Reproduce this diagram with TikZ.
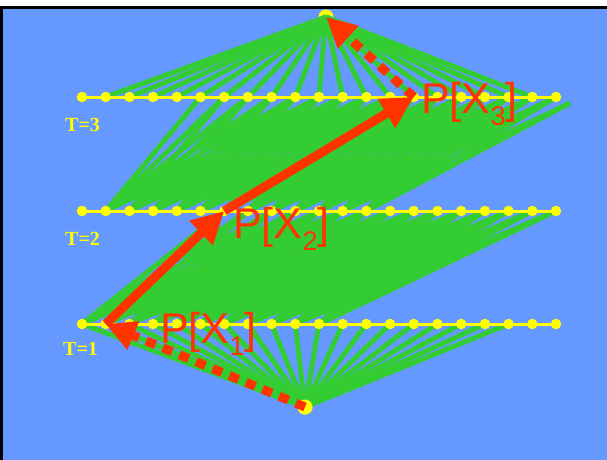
\documentclass[tikz,border=0pt]{standalone}
\usepackage{fontspec}
\setmainfont{Liberation Serif}
\newfontfamily\arialf{Liberation Sans}
\usetikzlibrary{arrows.meta}
\definecolor{bgblue}{HTML}{6699FF}
\definecolor{ggreen}{HTML}{33CC33}
\definecolor{yel}{HTML}{FFFF00}
\definecolor{rred}{HTML}{FF3300}
\newcommand{\subtxt}[1]{\raisebox{-12pt}{\fontsize{27}{27}\selectfont #1}}
\begin{document}
\begin{tikzpicture}[x=1pt,y=-1pt,
 gline/.style={ggreen, line width=5pt},
 rowline/.style={yel, line width=3pt},
 ydot/.style={circle, fill=yel, inner sep=0pt, minimum size=10.5pt},
 bigdot/.style={circle, fill=yel, inner sep=0pt, minimum size=15pt},
 tlabel/.style={text=yel, font=\fontsize{20}{20}\selectfont\bfseries, anchor=base west, inner sep=0pt},
 plabel/.style={text=rred, font=\arialf\fontsize{43}{43}\selectfont, anchor=base west, inner sep=0pt},
 solidarrow/.style={rred, line width=9pt, -{Triangle[length=32pt,width=32pt]}},
 dasharrow/.style={rred, line width=9pt, dash pattern=on 10pt off 8pt, -{Triangle[length=30pt,width=29pt]}},
]
\useasboundingbox (0,0) rectangle (607,459);
\fill[white] (0,0) rectangle (607,459);
\draw[line width=2.5pt, fill=bgblue] (1.25,7.25) rectangle (640,490);

% coordinates
\foreach \i in {0,...,20} {
  \pgfmathsetmacro\xx{82+23.7*\i}
  \coordinate (t1-\i) at (\xx,324);
  \coordinate (t2-\i) at (\xx,211);
  \coordinate (t3-\i) at (\xx,97);
}
\coordinate (ext) at (570,103);
\node[bigdot] (top) at (326,17) {};

% green edges T1 -> T2
\foreach \i in {0,...,10} {
  \foreach \j in {6,...,20} {
    \pgfmathtruncatemacro\d{\j-\i}
    \ifnum\d>4 \ifnum\d<12 \draw[gline] (t1-\i) -- (t2-\j); \fi\fi
  }
}
% green edges T2 -> T3
\foreach \i in {1,...,12} {
  \foreach \j in {5,...,20} {
    \pgfmathtruncatemacro\d{\j-\i}
    \ifnum\d>3 \ifnum\d<11 \draw[gline] (t2-\i) -- (t3-\j); \fi\fi
  }
}
\draw[gline] (t2-11) -- (ext);
\draw[gline] (t2-12) -- (ext);
% top fan
\foreach \j in {1,...,19} { \draw[gline] (top.center) -- (t3-\j); }
% bottom fan
\node[bigdot] (bot) at (305,407) {};
\foreach \j in {0,...,18} { \draw[gline] (bot.center) -- (t1-\j); }
\node[bigdot] at (bot.center) {};

% rows
\draw[rowline] (t1-0) -- (t1-20);
\draw[rowline] (t2-0) -- (t2-20);
\draw[rowline] (t3-0) -- (t3-20);
\foreach \i in {0,...,20} {
  \node[ydot] at (t1-\i) {};
  \node[ydot] at (t2-\i) {};
  \node[ydot] at (t3-\i) {};
}

% labels
\node[tlabel] (l3) at (65,131) {T=3};
\node[tlabel] (l2) at (65,245) {T=2};
\node[tlabel] (l1) at (63,355) {T=1};

% red arrows
\draw[solidarrow] (t1-1) -- (t2-6);
\draw[solidarrow] (t2-6) -- (t3-14);
\draw[dasharrow] (t3-14) -- (top.center);
\draw[dasharrow] (bot.center) -- (t1-1);

% red labels
\node[plabel] (p1) at (160,343) {P[X\subtxt{1}]};
\node[plabel] (p2) at (233,238) {P[X\subtxt{2}]};
\node[plabel] (p3) at (421,113) {P[X\subtxt{3}]};
\end{tikzpicture}
\end{document}
